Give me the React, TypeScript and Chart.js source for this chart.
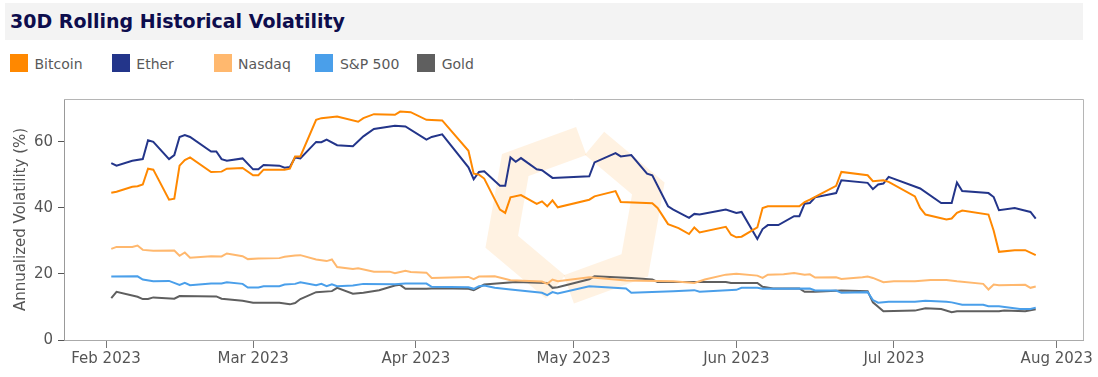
import { useEffect, useRef } from 'react';
import { Chart, registerables } from 'chart.js';

Chart.register(...registerables);

const YEAR = 2023;

const btcDates = ['02-02','02-03','02-06','02-07','02-08','02-09','02-10','02-13','02-14','02-15','02-16','02-17','02-21','02-23','02-24','02-27','03-01','03-02','03-03','03-07','03-08','03-09','03-10','03-13','03-14','03-17','03-21','03-22','03-24','03-28','03-29','03-31','04-03','04-06','04-11','04-12','04-13','04-14','04-17','04-18','04-19','04-21','04-24','04-25','04-26','04-27','04-28','05-04','05-05','05-09','05-10','05-16','05-17','05-19','05-21','05-23','05-24','05-25','05-30','05-31','06-01','06-02','06-05','06-06','06-07','06-13','06-14','06-15','06-20','06-21','06-26','06-27','06-29','06-30','07-05','07-06','07-07','07-11','07-12','07-13','07-14','07-19','07-20','07-21','07-24','07-26','07-28'];
const btcValues = [44.6,44.9,46.4,46.6,47.1,51.9,51.6,42.5,42.8,52.8,54.5,55.3,50.9,51.0,51.9,52.1,49.9,49.9,51.6,51.6,51.9,55.6,55.6,66.7,67.2,67.7,66.1,67.2,68.4,68.2,69.2,69.0,66.7,66.5,57.3,50.4,50.1,48.9,39.5,38.5,43.2,43.9,41.2,42.0,40.5,42.3,40.2,42.5,43.5,45.1,41.8,41.4,40.0,35.1,33.9,32.1,34.1,32.6,34.3,31.9,31.1,31.3,34.1,40.0,40.5,40.5,41.8,42.5,46.7,50.9,49.9,48.1,48.4,47.9,43.5,40.0,38.0,36.5,36.8,38.5,39.2,38.0,33.1,26.7,27.2,27.2,25.7];

const ethDates = ['02-02','02-03','02-06','02-08','02-09','02-10','02-13','02-14','02-15','02-16','02-17','02-21','02-22','02-23','02-24','02-27','03-01','03-02','03-03','03-06','03-07','03-08','03-09','03-10','03-13','03-14','03-15','03-17','03-20','03-22','03-24','03-28','03-30','04-03','04-04','04-06','04-11','04-12','04-13','04-14','04-17','04-18','04-19','04-20','04-21','04-24','04-25','04-27','05-04','05-05','05-09','05-10','05-12','05-15','05-16','05-19','05-20','05-23','05-24','05-25','05-30','06-01','06-02','06-05','06-06','06-07','06-09','06-12','06-13','06-14','06-15','06-16','06-20','06-21','06-26','06-27','06-28','06-29','06-30','07-06','07-10','07-12','07-13','07-14','07-19','07-20','07-21','07-24','07-27','07-28'];
const ethValues = [53.6,52.8,54.3,54.8,60.5,60.0,54.8,56.0,61.5,62.1,61.5,57.1,57.1,54.8,54.3,55.0,51.7,51.7,53.0,52.8,52.2,52.4,55.3,55.0,60.0,59.9,60.7,59.0,58.7,61.7,63.9,64.9,64.7,60.7,61.5,62.3,52.3,48.7,50.9,51.1,46.7,46.7,55.3,54.0,55.1,51.7,51.4,49.1,49.6,53.8,56.6,55.6,56.0,50.4,49.9,40.5,39.5,37.0,38.2,38.0,39.5,38.5,38.8,30.6,33.6,34.8,34.8,37.5,37.5,41.3,41.5,43.2,44.5,48.4,47.6,45.7,47.1,47.4,49.4,45.9,41.5,41.5,47.7,45.1,44.5,43.3,39.3,40.0,38.8,36.8];

const ndqDates = ['02-02','02-03','02-06','02-07','02-08','02-10','02-14','02-15','02-16','02-17','02-21','02-23','02-24','02-27','02-28','03-02','03-06','03-07','03-09','03-10','03-13','03-15','03-16','03-17','03-20','03-21','03-24','03-27','03-28','03-30','03-31','04-03','04-04','04-11','04-12','04-13','04-16','04-19','04-25','04-26','04-27','04-28','05-04','05-11','05-20','05-24','05-26','05-30','06-01','06-05','06-06','06-07','06-10','06-12','06-14','06-15','06-16','06-20','06-21','06-25','06-26','06-27','06-29','07-01','07-05','07-08','07-11','07-13','07-18','07-19','07-20','07-21','07-26','07-27','07-28'];
const ndqValues = [27.6,28.2,28.2,28.6,27.3,27.0,27.1,25.5,26.5,24.9,25.4,25.3,26.2,25.4,24.5,24.7,24.8,25.2,25.6,25.7,24.4,23.9,24.4,22.1,21.5,21.7,20.7,20.7,20.2,21.0,20.6,20.4,18.8,19.1,18.4,19.2,19.3,18.1,17.7,17.0,18.3,17.8,19.0,18.0,17.8,17.3,18.3,19.8,20.1,19.5,18.8,19.8,19.9,20.3,19.8,19.9,18.9,19.0,18.5,19.0,19.2,18.8,17.5,17.8,17.8,18.2,18.2,17.8,17.0,15.3,16.8,16.6,16.7,15.8,16.2];

const spxDates = ['02-02','02-07','02-08','02-10','02-13','02-15','02-16','02-17','02-21','02-23','02-24','02-27','02-28','03-02','03-03','03-06','03-07','03-09','03-10','03-13','03-14','03-15','03-16','03-17','03-20','03-22','03-28','03-30','04-03','04-04','04-11','04-12','04-13','04-14','04-16','04-19','04-25','04-26','04-27','04-28','05-04','05-11','05-12','05-20','05-24','05-25','06-01','06-02','06-05','06-06','06-15','06-16','06-20','06-21','06-26','06-27','06-28','06-30','07-05','07-07','07-11','07-12','07-14','07-18','07-19','07-21','07-25','07-27','07-28'];
const spxValues = [19.2,19.3,18.3,17.8,17.9,16.7,17.3,16.6,17.1,17.1,17.5,17.0,15.9,15.9,16.3,16.3,16.8,17.0,17.5,16.6,17.0,16.3,16.9,16.3,16.5,17.0,16.9,17.1,17.1,16.1,16.0,15.5,16.3,16.5,15.8,15.3,14.3,13.6,14.5,14.1,16.3,15.6,14.3,14.8,15.1,14.6,15.2,15.8,15.8,15.5,15.6,15.0,15.0,14.3,14.5,12.1,11.3,11.6,11.6,11.9,11.6,11.4,10.7,10.7,10.2,10.2,9.4,9.4,9.8];

const goldDates = ['02-02','02-03','02-07','02-08','02-09','02-10','02-14','02-15','02-22','02-23','02-27','03-01','03-06','03-08','03-09','03-10','03-13','03-16','03-17','03-20','03-22','03-25','03-28','03-29','03-30','04-03','04-05','04-11','04-12','04-14','04-20','04-26','04-27','04-28','05-04','05-05','05-12','05-16','05-17','05-30','05-31','06-05','06-06','06-08','06-13','06-14','06-16','06-21','06-26','06-27','06-29','07-05','07-07','07-10','07-12','07-13','07-21','07-22','07-26','07-28'];
const goldValues = [12.7,14.6,13.1,12.4,12.4,12.9,12.5,13.3,13.2,12.5,11.9,11.3,11.3,10.8,11.2,12.4,14.5,14.8,15.8,14.0,14.3,15.1,16.5,16.7,15.5,15.5,15.7,15.5,15.1,16.8,17.6,17.3,15.8,16.0,18.4,19.3,18.8,18.3,17.6,17.6,17.3,17.3,16.1,15.6,15.6,14.6,14.6,15.0,14.8,11.4,8.7,8.9,9.6,9.4,8.4,8.7,8.7,8.9,8.7,9.3];

const seriesNames = ['Bitcoin', 'Ether', 'Nasdaq', 'S&P 500', 'Gold'];
const seriesColors = ['#ff8800', '#23358a', '#ffb86e', '#4a9fea', '#5f5f5f'];
const seriesDates = [btcDates, ethDates, ndqDates, spxDates, goldDates];
const seriesValues = [btcValues, ethValues, ndqValues, spxValues, goldValues];

const tickDates = ['02-01', '03-01', '04-01', '05-01', '06-01', '07-01', '08-01'];
const tickLabels = ['Feb 2023', 'Mar 2023', 'Apr 2023', 'May 2023', 'Jun 2023', 'Jul 2023', 'Aug 2023'];
const yTicks = [0, 20, 40, 60];
const axisStart = '01-24';
const axisEnd = '08-06';

const TITLE = '30D Rolling Historical Volatility';
const Y_TITLE = 'Annualized Volatility (%)';
const FONT = '"DejaVu Sans", Verdana, sans-serif';

const BASE = Date.UTC(YEAR, 1, 1);
const toDay = (md: string) => {
  const [m, d] = md.split('-').map(Number);
  return (Date.UTC(YEAR, m - 1, d) - BASE) / 86400000;
};

const framePlugin = {
  id: 'frame',
  beforeDatasetsDraw(chart: any) {
    const { ctx, chartArea: a } = chart;
    // faint watermark logo
    const cx = a.left + a.width * 0.5015;
    const cy = a.top + a.height * 0.482;
    const R = 78;
    const pt = (deg: number): [number, number] => [cx + R * Math.cos((deg * Math.PI) / 180), cy + R * Math.sin((deg * Math.PI) / 180)];
    const lerp = (p: number[], q: number[], t: number): [number, number] => [p[0] + (q[0] - p[0]) * t, p[1] + (q[1] - p[1]) * t];
    const verts = [-80, -20, 40, 100, 160, 220].map(pt);
    ctx.save();
    ctx.lineWidth = 30;
    ctx.lineJoin = 'miter';
    ctx.lineCap = 'butt';
    ctx.strokeStyle = 'rgba(253, 192, 110, 0.2)';
    const piece = (idx: number[]) => {
      const p0 = lerp(verts[idx[0]], verts[idx[1]], 0.1);
      const pn = lerp(verts[idx[idx.length - 1]], verts[idx[idx.length - 2]], 0.1);
      ctx.beginPath();
      ctx.moveTo(p0[0], p0[1]);
      for (let i = 1; i < idx.length - 1; i++) ctx.lineTo(verts[idx[i]][0], verts[idx[i]][1]);
      ctx.lineTo(pn[0], pn[1]);
      ctx.stroke();
    };
    piece([0, 1, 2, 3]);
    piece([3, 4, 5, 0]);
    ctx.restore();
    // top and right frame
    ctx.save();
    ctx.strokeStyle = '#b5b5b5';
    ctx.lineWidth = 1;
    ctx.beginPath();
    ctx.moveTo(a.left, a.top + 0.5);
    ctx.lineTo(a.right + 0.5, a.top + 0.5);
    ctx.lineTo(a.right + 0.5, a.bottom);
    ctx.stroke();
    ctx.restore();
  },
};

export default function App() {
  const canvasRef = useRef<HTMLCanvasElement | null>(null);

  useEffect(() => {
    if (!canvasRef.current) return;
    const datasets = seriesNames.map((name, i) => ({
      label: name,
      data: seriesDates[i].map((d, j) => ({ x: toDay(d), y: seriesValues[i][j] })),
      borderColor: seriesColors[i],
      backgroundColor: seriesColors[i],
      borderWidth: 2,
      pointRadius: 0,
      tension: 0,
      fill: false,
    }));
    const tickFont = { family: FONT, size: 15 };
    const chart = new Chart(canvasRef.current, {
      type: 'line',
      data: { datasets },
      plugins: [framePlugin],
      options: {
        animation: false,
        responsive: false,
        maintainAspectRatio: false,
        layout: { padding: { top: 8, right: 15, left: 0, bottom: 0 } },
        plugins: { legend: { display: false }, tooltip: { enabled: false }, title: { display: false } },
        scales: {
          x: {
            type: 'linear',
            min: toDay(axisStart),
            max: toDay(axisEnd),
            afterBuildTicks: (s: any) => {
              s.ticks = tickDates.map((d) => ({ value: toDay(d) }));
            },
            afterFit: (s: any) => {
              s.height = 37;
            },
            ticks: {
              callback: (_v: any, i: number) => tickLabels[i],
              color: '#555',
              font: tickFont,
              padding: 2,
              maxRotation: 0,
              autoSkip: false,
            },
            grid: { drawOnChartArea: false, drawTicks: true, tickLength: 8, tickColor: '#777' },
            border: { display: true, color: '#aaa', dash: [2, 2] },
          },
          y: {
            min: 0,
            max: 73,
            afterBuildTicks: (s: any) => {
              s.ticks = yTicks.map((v) => ({ value: v }));
            },
            afterFit: (s: any) => {
              s.width = 64;
            },
            ticks: { color: '#555', font: tickFont, padding: 5 },
            grid: { drawOnChartArea: false, drawTicks: true, tickLength: 6, tickColor: '#555' },
            border: { display: true, color: '#999' },
            title: {
              display: true,
              text: Y_TITLE,
              color: '#555',
              font: { family: FONT, size: 15 },
              padding: { top: 12, bottom: 0 },
            },
          },
        },
      } as any,
    });
    return () => chart.destroy();
  }, []);

  return (
    <div style={{ position: 'absolute', left: 0, top: 0, width: 1098, height: 377, background: '#fff', fontFamily: FONT, overflow: 'hidden' }}>
      <div style={{ position: 'absolute', left: 5, top: 3, width: 1078, height: 37, background: '#f3f3f3' }}>
        <span style={{ position: 'absolute', left: 5, top: 0, lineHeight: '37px', fontSize: 19, fontWeight: 'bold', color: '#0d0d4d', whiteSpace: 'nowrap' }}>
          {TITLE}
        </span>
      </div>
      {seriesNames.map((name, i) => (
        <div key={name} style={{ position: 'absolute', left: 10 + i * 101.8, top: 54, height: 18 }}>
          <div style={{ position: 'absolute', left: 0, top: 0, width: 18, height: 18, background: seriesColors[i] }} />
          <span style={{ position: 'absolute', left: 24.5, top: 1, lineHeight: '18px', fontSize: 14, color: '#595959', whiteSpace: 'nowrap' }}>{name}</span>
        </div>
      ))}
      <canvas ref={canvasRef} width={1098} height={292} style={{ position: 'absolute', left: 0, top: 85, width: 1098, height: 292 }} />
    </div>
  );
}
